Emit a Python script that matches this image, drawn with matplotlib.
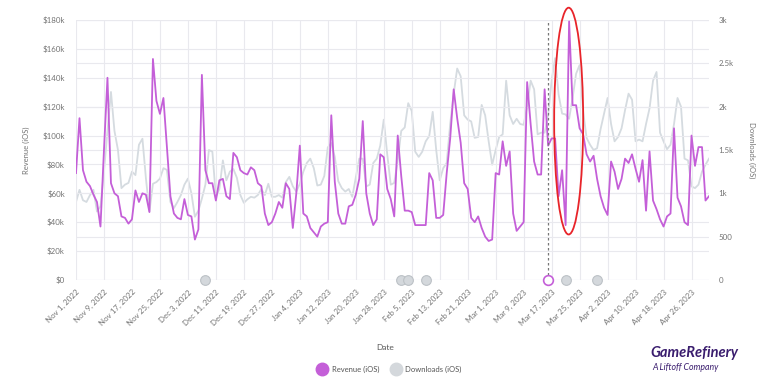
import matplotlib
matplotlib.use("Agg")
import matplotlib.pyplot as plt
import matplotlib.dates as mdates
from matplotlib.patches import Ellipse
from matplotlib.lines import Line2D
from matplotlib.ticker import FuncFormatter
import pandas as pd

# daily values, starting Nov 1, 2022
start_date = "2022-11-01"

revenue_k = [
    74, 112, 76, 68, 65, 59, 54, 37, 90, 140,
    67, 60, 58, 44, 43, 39, 42, 62, 54, 60,
    59, 47, 153, 124, 115, 126, 92, 58, 46, 43,
    42, 56, 45, 44, 28, 35, 142, 76, 67, 67,
    55, 69, 70, 58, 56, 88, 85, 76, 74, 73,
    78, 76, 67, 65, 46, 38, 40, 46, 54, 50,
    67, 63, 36, 60, 93, 46, 44, 36, 33, 30,
    37, 39, 40, 114, 68, 46, 39, 39, 51, 52,
    59, 70, 110, 60, 46, 38, 42, 87, 85, 63,
    56, 44, 100, 72, 48, 48, 47, 38, 38, 38,
    38, 74, 69, 43, 43, 45, 74, 98, 132, 112,
    95, 67, 63, 43, 40, 44, 36, 30, 27, 28,
    74, 73, 96, 79, 89, 46, 34, 37, 40, 137,
    108, 82, 73, 73, 132, 93, 98, 98, 58, 76,
    38, 179, 121, 121, 105, 101, 87, 82, 86, 70,
    58, 50, 45, 82, 75, 63, 70, 84, 81, 87,
    77, 68, 83, 48, 89, 55, 49, 42, 37, 44,
    46, 105, 57, 51, 40, 38, 100, 79, 92, 92,
    55, 58,
]

downloads = [
    900, 1040, 920, 900, 980, 1040, 790, 850, 1250, 1720,
    2170, 1720, 1500, 1060, 1100, 1120, 1250, 1210, 1560, 1630,
    1170, 790, 1110, 1130, 1170, 1290, 1270, 900, 830, 900,
    980, 1100, 1170, 1000, 730, 800, 940, 1100, 1500, 1480,
    960, 1050, 1380, 1150, 1250, 1280, 1180, 980, 890, 930,
    960, 950, 980, 1050, 980, 1110, 960, 960, 980, 950,
    1130, 1190, 1080, 1020, 1110, 1250, 1350, 1400, 1290, 1090,
    1100, 1200, 1530, 1580, 1420, 1140, 1060, 1020, 1050, 960,
    1180, 1400, 1400, 1080, 1100, 1350, 1400, 1550, 1850, 1450,
    1100, 1120, 1380, 1720, 1760, 2040, 1950, 1480, 1420, 1480,
    1600, 1660, 1940, 1500, 1150, 1290, 1350, 1800, 2150, 2440,
    2350, 1900, 1850, 1830, 1640, 1650, 2020, 1900, 1600, 1330,
    1500, 1650, 1680, 2300, 1900, 1800, 1860, 1800, 1790, 2000,
    2300, 2200, 1680, 1700, 1700, 1900, 2300, 2560, 2140, 1920,
    1910, 1860, 2100, 2380, 2480, 1950, 1640, 1560, 1500, 1520,
    1740, 1920, 2100, 1800, 1600, 1650, 1750, 1960, 2150, 2080,
    1600, 1620, 1600, 1800, 1980, 2300, 2400, 1700, 1600, 1510,
    1560, 1800, 2100, 2000, 1400, 1380, 1080, 1060, 1100, 1250,
    1330, 1400,
]

event_dates = ["2022-12-08", "2023-02-02", "2023-02-04", "2023-02-09",
               "2023-03-21", "2023-03-30"]
highlight_date = "2023-03-16"

PURPLE = "#c45fd8"
GREY_LINE = "#d5dbe0"
TEXT = "#737373"
GRID = "#e9e9ee"

dates = pd.date_range(start_date, periods=len(revenue_k), freq="D")
tick_dates = pd.date_range(start_date, dates[-1], freq="8D")

plt.rcParams["font.family"] = ["Lato", "DejaVu Sans"]
fig = plt.figure(figsize=(7.81, 3.88), dpi=100)
ax = fig.add_axes([0.0973, 0.2784, 0.8105, 0.6701])
ax2 = ax.twinx()
ax.set_zorder(ax2.get_zorder() + 1)
ax.patch.set_visible(False)

# downloads behind, revenue on top
ax2.plot(dates, downloads, color=GREY_LINE, lw=1.3)
ax.plot(dates, [v * 1000 for v in revenue_k], color=PURPLE, lw=1.3)

ax.set_xlim(dates[0], dates[-1])
ax.set_ylim(0, 180000)
ax2.set_ylim(0, 3000)

ax.set_yticks(range(0, 180001, 20000))
ax.yaxis.set_major_formatter(FuncFormatter(
    lambda v, p: "$0" if v == 0 else f"${int(v / 1000)}k"))
ax2.set_yticks(range(0, 3001, 500))
ax2.yaxis.set_major_formatter(FuncFormatter(
    lambda v, p: f"{v / 1000:g}k" if v >= 1000 else f"{int(v)}"))

ax.set_xticks(tick_dates)
ax.set_xticklabels([d.strftime("%b %-d, %Y") for d in tick_dates],
                   rotation=45, ha="right", rotation_mode="anchor")

ax.grid(True, color=GRID, lw=0.8)
ax2.yaxis.grid(True, color=GRID, lw=0.8)
ax.set_axisbelow(True)
ax2.set_axisbelow(True)

for a in (ax, ax2):
    for s in a.spines.values():
        s.set_visible(False)
ax.tick_params(axis="both", length=0, labelsize=5.7, labelcolor=TEXT)
ax.tick_params(axis="y", pad=8)
ax.tick_params(axis="x", pad=6)
ax2.tick_params(axis="y", length=0, labelsize=5.7, labelcolor=TEXT, pad=7)

ax.set_ylabel("Revenue (iOS)", fontsize=5.5, color=TEXT)
ax.yaxis.set_label_coords(-0.073, 0.5)
ax2.set_ylabel("Downloads (iOS)", fontsize=5.5, color=TEXT, rotation=270, va="center")
ax2.yaxis.set_label_coords(1.068, 0.5)
ax.set_xlabel("Date", fontsize=6, color="#555555")
ax.xaxis.set_label_coords(0.488, -0.245)

# annotation markers on the x axis
hl = pd.Timestamp(highlight_date)
ax.axvline(hl, color="#777777", lw=0.9, ls=(0, (2, 2)), zorder=3)
ax.plot(pd.to_datetime(event_dates), [0] * len(event_dates), "o", ms=7,
        mfc="#d4d8dc", mec="#bcc1c6", mew=0.8, clip_on=False, zorder=6)
ax.plot([hl], [0], "o", ms=7, mfc="white", mec=PURPLE, mew=1.2,
        clip_on=False, zorder=6)

# red highlight ellipse
ell = Ellipse((mdates.date2num(pd.Timestamp("2023-03-21 21:00")), 110000),
              width=8.3, height=157000, fill=False, edgecolor="#e8242a",
              lw=1.3, clip_on=False, zorder=7)
ax.add_patch(ell)

handles = [
    Line2D([], [], marker="o", ls="", ms=9, mfc=PURPLE, mec=PURPLE),
    Line2D([], [], marker="o", ls="", ms=9, mfc="#d4d8dc", mec="#d4d8dc"),
]
fig.legend(handles, ["Revenue (iOS)", "Downloads (iOS)"], loc="center",
           bbox_to_anchor=(0.497, 0.049), ncol=2, frameon=False,
           fontsize=5.5, handletextpad=0.2, columnspacing=1.2,
           labelcolor="#555555")

fig.text(0.833, 0.091, "GameRefinery", fontsize=10.5, fontweight="bold",
         style="italic", color="#3a1d6e", va="center")
fig.text(0.835, 0.052, "A Liftoff Company", fontsize=6.3, style="italic",
         color="#3a1d6e", va="center")

fig.savefig("out.png", dpi=100)
